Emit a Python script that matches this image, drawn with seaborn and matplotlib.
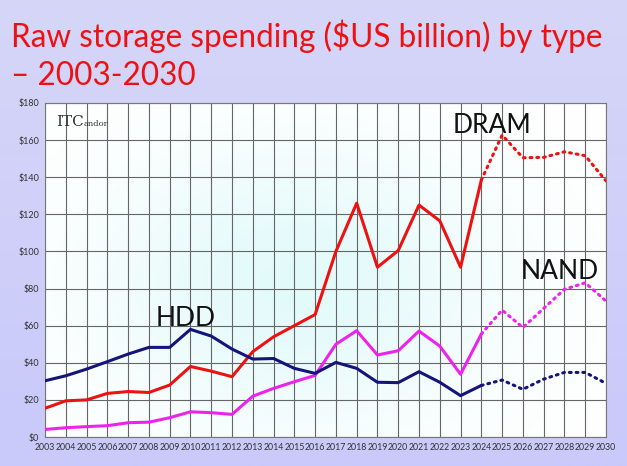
import seaborn as sns
import matplotlib.pyplot as plt
import numpy as np

years = list(range(2003, 2031))
dram = [15.5, 19.5, 20, 23.5, 24.5, 24, 28, 38, 35.5, 32.5, 46, 54, 60, 66,
        100, 126, 91.5, 100.5, 125, 116.5, 91.5, 138.5,
        162.7, 150.5, 150.7, 153.7, 151.6, 138]
nand = [4.1, 5, 5.6, 6.1, 7.7, 8, 10.4, 13.6, 13.1, 12.2, 22, 26.2, 29.8, 33.2,
        50, 57.3, 44.2, 46.5, 57.1, 49, 33.8, 55.5,
        68.4, 59, 69.3, 79.6, 83.1, 73.3]
hdd = [30.3, 33, 36.6, 40.6, 44.7, 48.3, 48.3, 58, 54.4, 47.4, 42, 42.3, 37, 34.3,
       40.2, 37, 29.5, 29.3, 35.2, 29.5, 22.3, 27.8,
       30.7, 25.7, 31.2, 34.8, 34.8, 28.9]
last_actual = 2024
yticks = list(range(0, 181, 20))

sns.set_theme(style="white")
plt.rcParams['font.family'] = ['Lato', 'DejaVu Sans']

fig = plt.figure(figsize=(6.27, 4.66), dpi=100)
# lavender slide background, lighter near the top
bg = fig.add_axes([0, 0, 1, 1], zorder=-10)
grad = np.linspace(0, 1, 200)[:, None]
bg.imshow(grad, aspect='auto', extent=[0, 1, 0, 1], origin='lower',
          cmap=plt.matplotlib.colors.LinearSegmentedColormap.from_list(
              'bg', ['#c9c9fb', '#d6d6f8']))
bg.axis('off')

fig.text(0.018, 0.900, 'Raw storage spending ($US billion) by type',
         color='#ee1111', fontsize=22.7, va='baseline')
fig.text(0.018, 0.818, '\u2013 2003-2030', color='#ee1111', fontsize=22.7,
         va='baseline')

ax = fig.add_axes([0.0718, 0.0622, 0.8947, 0.7168])
ax.set_xlim(2003, 2030)
ax.set_ylim(0, 180)

# light cyan glow in the plot area
xx, yy = np.meshgrid(np.linspace(-1, 1, 300), np.linspace(-1, 1, 200))
glow = np.exp(-((xx + 0.1) ** 2 / 0.5 + (yy + 0.1) ** 2 / 0.7))
ax.imshow(glow, extent=[2003, 2030, 0, 180], aspect='auto', origin='lower',
          zorder=0, cmap=plt.matplotlib.colors.LinearSegmentedColormap.from_list(
              'glow', ['#ffffff', '#e3fafb']))

series = [(dram, '#ee1111'), (nand, '#ee22ee'), (hdd, '#14147a')]
cut = years.index(last_actual)
for vals, col in series:
    sns.lineplot(x=years[:cut + 1], y=vals[:cut + 1], color=col, lw=2.2,
                 ax=ax, zorder=3)
    sns.lineplot(x=years[cut:], y=vals[cut:], color=col, lw=2.2,
                 linestyle=(0, (0.6, 1.6)), dash_capstyle='round', ax=ax, zorder=3)

ax.set_xticks(years)
ax.set_xticklabels([str(y) for y in years], fontsize=6.3, color='#333333')
ax.set_yticks(yticks)
ax.set_yticklabels(['$%d' % v for v in yticks], fontsize=6.5, color='#333333')
ax.tick_params(axis='y', length=3, width=0.6, color='#444444', pad=1)
ax.tick_params(axis='x', length=0, pad=4)
ax.grid(True, color='#666666', lw=0.8, zorder=1)
ax.set_axisbelow(True)
for s in ax.spines.values():
    s.set_color('#777777')
    s.set_linewidth(0.8)

ax.text(2003.55, 167.5, 'ITC', family='DejaVu Serif', fontsize=11,
        color='#333333', va='baseline')
ax.text(2004.85, 167.5, 'andor', family='DejaVu Serif', fontsize=6,
        color='#333333', va='baseline')

ax.text(2008.3, 60, 'HDD', fontsize=19, color='#111111', va='baseline')
ax.text(2022.6, 164, 'DRAM', fontsize=19, color='#111111', va='baseline')
ax.text(2025.9, 85, 'NAND', fontsize=19, color='#111111', va='baseline')

fig.savefig('out.png', dpi=100)
